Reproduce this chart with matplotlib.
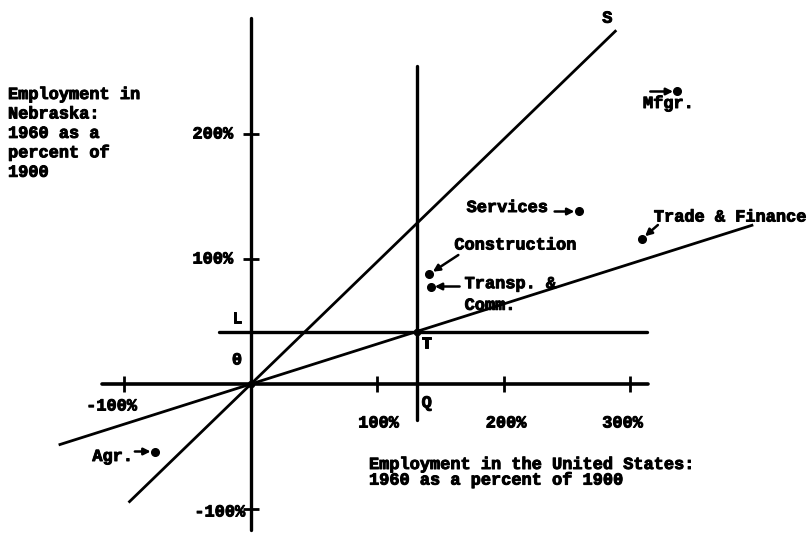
import matplotlib
matplotlib.use("Agg")
import matplotlib.pyplot as plt
import matplotlib.patheffects as pe
import numpy as np

# ---- data ----
sectors = ["Mfgr.", "Services", "Trade & Finance", "Construction", "Transp. &\nComm.", "Agr."]
us_pct = [337, 259, 309, 141, 142, -76]     # Employment in US, 1960 as % of 1900
ne_pct = [234, 138, 116, 88, 78, -54]       # Employment in Nebraska, 1960 as % of 1900
x_ticks = [-100, 100, 200, 300]
x_tick_labels = ["-100%", "100%", "200%", "300%"]
y_ticks = [200, 100, -100]
y_tick_labels = ["200%", "100%", "-100%"]
q_x = 131          # point Q on US axis
l_y = 42           # point L on Nebraska axis
s_slope = 0.98     # slope of line OS

FONT = dict(family="Liberation Mono", weight="bold", size=12.2,
            path_effects=[pe.withStroke(linewidth=0.7, foreground="black")])

fig = plt.figure(figsize=(8.11, 5.36), dpi=100)
ax = fig.add_axes([0, 0, 1, 1])
ax.set_xlim(-198.4, 442.7)
ax.set_ylim(-121.6, 307.2)
ax.axis("off")

k = "black"
# axes
ax.plot([-118, 314], [0, 0], color=k, lw=2.6, solid_capstyle="round")
ax.plot([0, 0], [-117, 293], color=k, lw=2.4, solid_capstyle="round")
# Q vertical and L horizontal
ax.plot([q_x, q_x], [-29, 254], color=k, lw=2.4, solid_capstyle="round")
ax.plot([-25, 313], [l_y, l_y], color=k, lw=2.4, solid_capstyle="round")
# line O-T
t_slope = l_y / q_x
xs = np.array([-151, 396])
ax.plot(xs, t_slope * xs, color=k, lw=2.0)
# line O-S
xs2 = np.array([-96, 288])
ax.plot(xs2, s_slope * xs2, color=k, lw=2.0)
ax.plot([q_x], [l_y], "o", color=k, ms=4.5)
ax.plot([0], [0], "o", color=k, ms=4.5)

# ticks
ax.plot(x_ticks, [0] * len(x_ticks), linestyle="none", marker="|", ms=11, mew=2.0, color=k)
ax.plot([0] * len(y_ticks), y_ticks, linestyle="none", marker="_", ms=11, mew=2.0, color=k)

x_lab_off = [(-13, -22), (1, -39), (2, -39), (-8, -39)]
for v, lab, off in zip(x_ticks, x_tick_labels, x_lab_off):
    ax.annotate(lab, (v, 0), xytext=off, textcoords="offset pixels",
                ha="center", va="center", **FONT)
y_lab_off = [(-18, 0), (-18, 0), (-6, -3)]
for v, lab, off in zip(y_ticks, y_tick_labels, y_lab_off):
    ax.annotate(lab, (0, v), xytext=off, textcoords="offset pixels",
                ha="right", va="center", **FONT)

# letter labels
ax.annotate("Q", (q_x, 0), xytext=(10, -19), textcoords="offset pixels", ha="center", va="center", **FONT)
ax.annotate("T", (q_x, l_y), xytext=(10, -12), textcoords="offset pixels", ha="center", va="center", **FONT)
ax.annotate("L", (0, l_y), xytext=(-14, 13), textcoords="offset pixels", ha="center", va="center", **FONT)
ax.annotate("0", (0, 0), xytext=(-14, 24), textcoords="offset pixels", ha="center", va="center", **FONT)
ax.annotate("S", (xs2[1], s_slope * xs2[1]), xytext=(-8, 13), textcoords="offset pixels",
            ha="center", va="center", **FONT)

# data points with arrows and labels
ax.plot(us_pct, ne_pct, "o", color=k, ms=5.5)
arrow_off = [(-27, 0), (-24, 0), (16, 14), (29, 19), (29, 0), (-20, 0)]
label_off = [(-9, -12), (-31, 4), (12, 22), (25, 29), (34, -8), (-22, -5)]
label_ha = ["center", "right", "left", "left", "left", "right"]
for x, y, name, ao, lo, ha in zip(us_pct, ne_pct, sectors, arrow_off, label_off, label_ha):
    ax.annotate("", (x, y), xytext=ao, textcoords="offset pixels",
                arrowprops=dict(arrowstyle="-|>", color=k, lw=1.8, mutation_scale=10,
                                shrinkA=0, shrinkB=3))
    ax.annotate(name, (x, y), xytext=lo, textcoords="offset pixels",
                ha=ha, va="center", linespacing=1.55, **FONT)

# axis titles
fig.text(8 / 811, 1 - 87 / 536, "Employment in\nNebraska:\n1960 as a\npercent of\n1900",
         ha="left", va="top", linespacing=1.37, **FONT)
fig.text(369 / 811, 1 - 457 / 536, "Employment in the United States:\n1960 as a percent of 1900",
         ha="left", va="top", linespacing=1.05, **FONT)

fig.savefig("out.png", dpi=100)
